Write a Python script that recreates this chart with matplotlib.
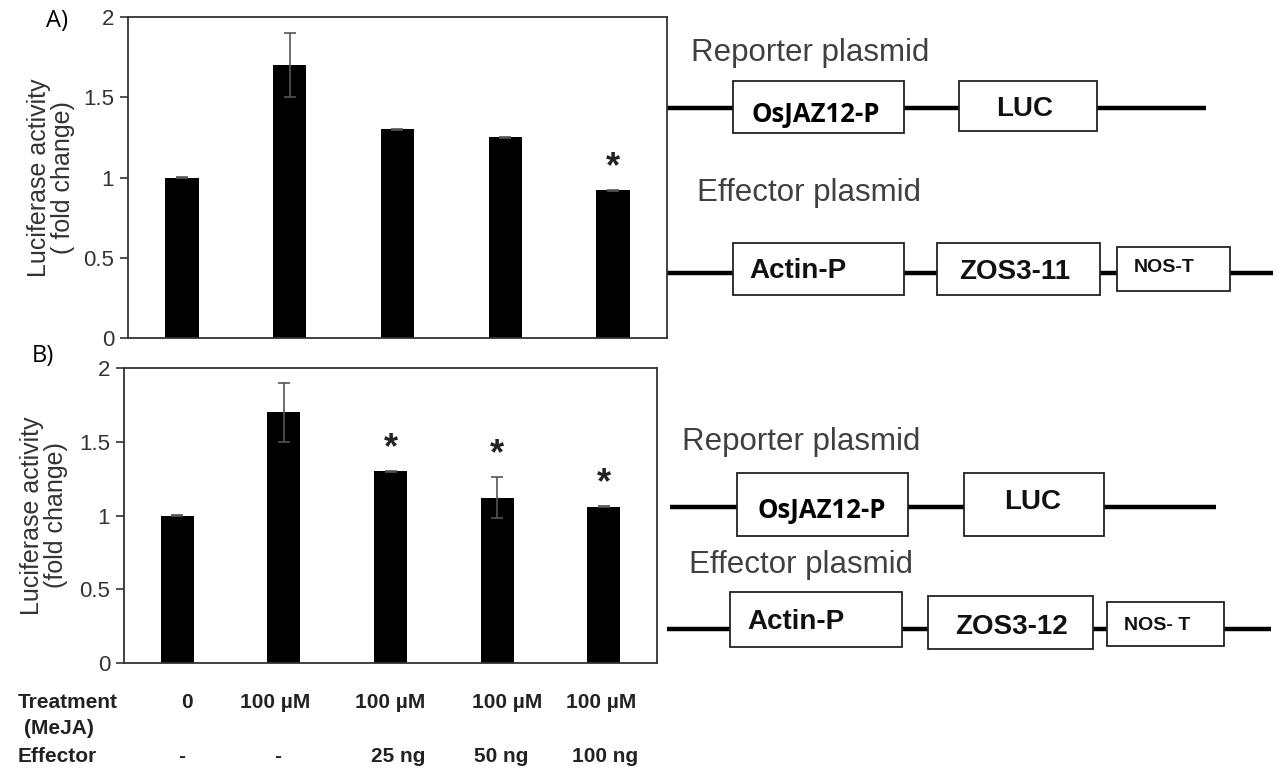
import numpy as np
import matplotlib.pyplot as plt
from matplotlib.patches import Rectangle

plt.rcParams['font.family'] = ['Liberation Sans', 'DejaVu Sans']

# valores de atividade da luciferase (fold change)
top_vals = [1.0, 1.7, 1.3, 1.25, 0.92]
top_err = [0.003, 0.2, 0.005, 0.004, 0.005]
top_sig = [False, False, False, False, True]

bot_vals = [1.0, 1.7, 1.3, 1.12, 1.06]
bot_err = [0.004, 0.2, 0.005, 0.14, 0.005]
bot_sig = [False, False, True, True, True]

yticks = [0, 0.5, 1, 1.5, 2]
ytick_labels = ['0', '0.5', '1', '1.5', '2']

treatment = ['0', '100 µM', '100 µM', '100 µM', '100 µM']
effector = ['-', '-', '25 ng', '50 ng', '100 ng']

fig = plt.figure(figsize=(12.75, 7.7), dpi=100)

# camada em pixels para os esquemas dos plasmideos e textos soltos
lay = fig.add_axes([0, 0, 1, 1])
lay.set_xlim(0, 1275)
lay.set_ylim(770, 0)
lay.axis('off')


def painel(pos, vals, err, sig, ylabel, lab_x):
    ax = fig.add_axes(pos)
    x = np.arange(len(vals))
    ax.bar(x, vals, width=0.31, color='black', yerr=err,
           error_kw=dict(ecolor='#555555', elinewidth=1.2, capsize=4, capthick=1.2))
    for i in range(len(vals)):
        if sig[i]:
            ax.annotate('*', xy=(x[i], vals[i] + err[i]), xytext=(0, 9),
                        textcoords='offset points', ha='center', va='baseline',
                        fontsize=26, fontweight='bold', color='#222222')
    ax.set_xlim(-0.5, len(vals) - 0.5)
    ax.set_ylim(0, 2)
    ax.set_xticks([])
    ax.set_yticks(yticks)
    ax.set_yticklabels(ytick_labels)
    ax.tick_params(axis='y', direction='out', length=6, width=1.2, color='#333333',
                   labelsize=16, labelcolor='#333333', pad=4)
    for s in ax.spines.values():
        s.set_color('#333333')
        s.set_linewidth(1.3)
    ax.set_ylabel(ylabel, fontsize=18, color='#333333', linespacing=1.0)
    ax.yaxis.set_label_coords(lab_x, 0.5)
    return ax


ax1 = painel([128 / 1275, 1 - 338 / 770, 539 / 1275, 321 / 770],
             top_vals, top_err, top_sig, 'Luciferase activity\n( fold change)', -0.098)
ax2 = painel([124 / 1275, 1 - 663 / 770, 533 / 1275, 295 / 770],
             bot_vals, bot_err, bot_sig, 'Luciferase activity\n(fold change)', -0.105)

# letras dos paineis
lay.text(57, 21, 'A)', family='Open Sans', fontsize=17, ha='center', va='center')
lay.text(43, 356, 'B)', family='Open Sans', fontsize=17, ha='center', va='center')

# tabela de tratamentos abaixo do painel B
bold = dict(fontweight='bold', fontsize=15, color='#222222', va='center')
lay.text(18, 703, 'Treatment', ha='left', **bold)
lay.text(24, 728, '(MeJA)', ha='left', **bold)
lay.text(18, 756, 'Effector', ha='left', **bold)
treat_x = [187, 275, 390, 507, 601]
eff_x = [182, 278, 398, 501, 605]
for xt, t in zip(treat_x, treatment):
    lay.text(xt, 703, t, ha='center', **bold)
for xe, e in zip(eff_x, effector):
    lay.text(xe, 756, e, ha='center', **bold)

# esquemas dos plasmideos
calibri = dict(family='Open Sans', fontweight='bold', fontsize=18.5, color='black')
arialb = dict(family='Liberation Sans', fontweight='bold', fontsize=20, color='#111111')
nos = dict(family='Liberation Sans', fontweight='bold', fontsize=14, color='#111111')
cinza = dict(family='Liberation Sans', fontsize=22.5, color='#404040', ha='left', va='center')


def plasmideo(line_y, x0, x1, caixas):
    lay.plot([x0, x1], [line_y, line_y], color='black', lw=3.2,
             solid_capstyle='butt', zorder=1)
    for xa, xb, ya, yb, txt, tx, ty, st in caixas:
        lay.add_patch(Rectangle((xa, ya), xb - xa, yb - ya, facecolor='white',
                                edgecolor='#222222', lw=1.3, zorder=2))
        lay.text(tx, ty, txt, ha='center', va='center_baseline', zorder=3, **st)


lay.text(691, 53, 'Reporter plasmid', **cinza)
plasmideo(108, 667, 1206, [
    (733, 904, 81, 133, 'OsJAZ12-P', 816, 112, calibri),
    (959, 1097, 81, 131, 'LUC', 1025, 106, arialb),
])
lay.text(697, 193, 'Effector plasmid', **cinza)
plasmideo(273, 667, 1273, [
    (733, 904, 243, 295, 'Actin-P', 798, 268, arialb),
    (937, 1100, 243, 295, 'ZOS3-11', 1015, 269, arialb),
    (1117, 1230, 247, 291, 'NOS-T', 1164, 265, nos),
])

lay.text(682, 442, 'Reporter plasmid', **cinza)
plasmideo(507, 670, 1216, [
    (737, 908, 473, 536, 'OsJAZ12-P', 822, 508, calibri),
    (964, 1104, 473, 536, 'LUC', 1033, 499, arialb),
])
lay.text(689, 565, 'Effector plasmid', **cinza)
plasmideo(629, 667, 1271, [
    (730, 902, 592, 647, 'Actin-P', 796, 619, arialb),
    (928, 1093, 596, 649, 'ZOS3-12', 1011, 624, arialb),
    (1107, 1224, 602, 646, 'NOS- T', 1157, 623, nos),
])

fig.savefig('out.png', dpi=100)
